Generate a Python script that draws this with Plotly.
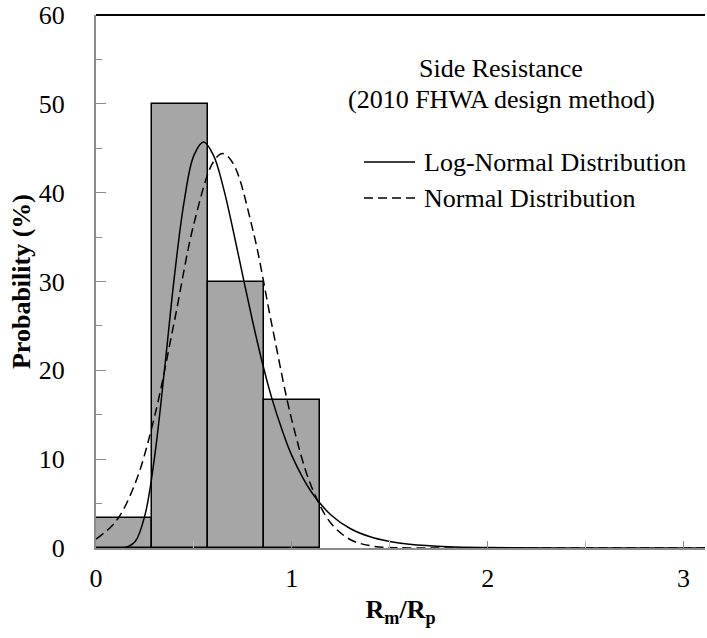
import plotly.graph_objects as go

# ---- data ----
bin_edges = [0.0, 0.287, 0.573, 0.860, 1.146]
bar_pct = [3.33, 50.0, 30.0, 16.67]

logn_x = [0.0, 0.10, 0.15, 0.20, 0.25, 0.30, 0.35, 0.40, 0.45, 0.50, 0.55, 0.60, 0.65, 0.70,
          0.75, 0.80, 0.85, 0.90, 0.95, 1.00, 1.10, 1.20, 1.30, 1.40, 1.50, 1.60, 1.80,
          2.00, 2.50, 3.12]
logn_y = [0.0, 0.0, 0.05, 0.72, 3.7, 10.4, 20.1, 30.5, 39.0, 44.2, 45.7, 44.2, 40.6, 35.8,
          30.6, 25.5, 20.8, 16.7, 13.3, 10.4, 6.3, 3.72, 2.17, 1.26, 0.73, 0.42, 0.14,
          0.05, 0.0, 0.0]

norm_x = [0.0, 0.10, 0.20, 0.30, 0.40, 0.50, 0.60, 0.647, 0.70, 0.80, 0.90, 1.00, 1.10,
          1.20, 1.30, 1.40, 1.50, 1.60, 1.80, 3.12]
norm_y = [1.0, 2.95, 7.27, 14.9, 25.5, 36.5, 43.5, 44.4, 43.3, 35.9, 24.9, 14.4, 6.93,
          2.78, 0.93, 0.26, 0.06, 0.01, 0.0, 0.0]

y_ticks = [0, 10, 20, 30, 40, 50, 60]
x_ticks = [0, 1, 2, 3]

title_lines = ["Side Resistance", "(2010 FHWA design method)"]
legend_names = ["Log-Normal Distribution", "Normal Distribution"]

FONT = "Liberation Serif, Times New Roman, serif"
FS = 26

centers = [(a + b) / 2 for a, b in zip(bin_edges[:-1], bin_edges[1:])]
widths = [b - a for a, b in zip(bin_edges[:-1], bin_edges[1:])]

fig = go.Figure()
fig.add_trace(go.Bar(x=centers, y=bar_pct, width=widths,
                     marker=dict(color="#a6a6a6", line=dict(color="black", width=1.5)),
                     showlegend=False))
fig.add_trace(go.Scatter(x=logn_x, y=logn_y, mode="lines", line_shape="spline",
                         line=dict(color="black", width=1.5), name=legend_names[0],
                         showlegend=False))
fig.add_trace(go.Scatter(x=norm_x, y=norm_y, mode="lines", line_shape="spline",
                         line=dict(color="black", width=1.5, dash="9px,5px"),
                         name=legend_names[1], showlegend=False))

fig.update_layout(
    width=707, height=638,
    margin=dict(l=96, r=2, t=15, b=90),
    paper_bgcolor="white", plot_bgcolor="white",
    font=dict(family=FONT, size=FS, color="black"),
    bargap=0,
    xaxis=dict(range=[0, 3.11], tickvals=x_ticks, showgrid=False, zeroline=False,
               showline=True, linecolor="#8c8c8c", linewidth=2,
               ticks="inside", ticklen=7, tickcolor="#8c8c8c", tickwidth=1,
               minor=dict(dtick=0.5, ticks="inside", ticklen=7, tickcolor="#bbbbbb"),
               tickfont=dict(family=FONT, size=FS), ticklabelstandoff=6,
               title=dict(text="<b>R<sub>m</sub>/R<sub>p</sub></b>",
                          font=dict(family=FONT, size=FS), standoff=8)),
    yaxis=dict(range=[0, 60], tickvals=y_ticks, showgrid=False, zeroline=False,
               showline=True, linecolor="#8c8c8c", linewidth=2,
               ticks="inside", ticklen=10, tickcolor="#8c8c8c", tickwidth=1,
               minor=dict(dtick=5, ticks="inside", ticklen=6, tickcolor="#8c8c8c"),
               tickfont=dict(family=FONT, size=FS), ticklabelstandoff=24,
               title=dict(text="<b>Probability (%)</b>",
                          font=dict(family=FONT, size=FS), standoff=1)),
)

# top border line
fig.add_shape(type="line", xref="paper", yref="paper", x0=0, x1=1, y0=1, y1=1,
              line=dict(color="black", width=2))

L, R, T, B = 96, 705, 15, 548


def px(xp):
    return (xp - L) / (R - L)


def py(yp):
    return (B - yp) / (B - T)


fig.add_annotation(xref="paper", yref="paper", x=px(501), y=py(68), text=title_lines[0],
                   showarrow=False, xanchor="center", yanchor="middle",
                   font=dict(family=FONT, size=FS))
fig.add_annotation(xref="paper", yref="paper", x=px(501), y=py(100), text=title_lines[1],
                   showarrow=False, xanchor="center", yanchor="middle",
                   font=dict(family=FONT, size=FS))

for i, (name, dash) in enumerate(zip(legend_names, ["solid", "9px,5px"])):
    yy = 162 + 36 * i
    fig.add_shape(type="line", xref="paper", yref="paper", x0=px(364), x1=px(415),
                  y0=py(yy), y1=py(yy), line=dict(color="black", width=1.5, dash=dash))
    fig.add_annotation(xref="paper", yref="paper", x=px(422), y=py(yy), text=name,
                       showarrow=False, xanchor="left", yanchor="middle",
                       font=dict(family=FONT, size=FS))

fig.write_html("out.html")
